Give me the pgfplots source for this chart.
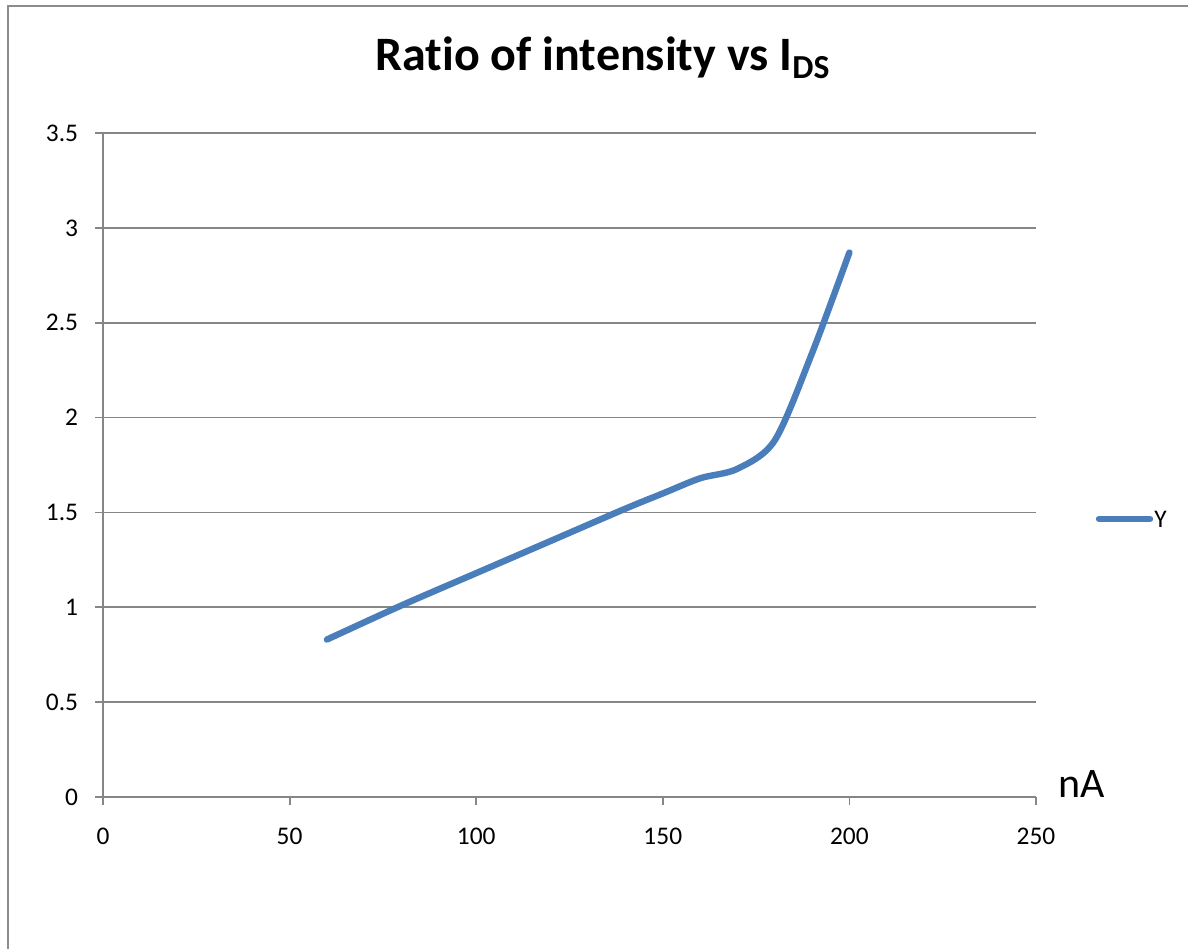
\documentclass[border=0pt]{standalone}
\usepackage{pgfplots}
\pgfplotsset{compat=1.18}
\usepackage{fontspec}
\setmainfont{Carlito}[Ligatures={NoCommon}]
\definecolor{seriesblue}{HTML}{4A7EBB}
\definecolor{axisgray}{HTML}{868686}
\definecolor{framegray}{HTML}{8C8C8C}

\pgfplotstableread{
x y
60 0.83
80 1.01
100 1.18
120 1.35
140 1.52
150 1.60
160 1.68
170 1.73
180 1.88
190 2.34
200 2.87
}\ratiodata

\begin{document}
\begin{tikzpicture}[x=0.5pt,y=0.5pt]
% page area and chart frame
\useasboundingbox (0,0) rectangle (1188,948);
\draw[framegray, line width=1.2pt] (8,-5) -- (8,942) -- (1195,942);
\begin{axis}[
  at={(51.5pt,75.5pt)}, anchor=south west,
  scale only axis,
  width=466.5pt, height=332pt,
  xmin=0, xmax=250, ymin=0, ymax=3.5,
  xtick={0,50,...,250},
  ytick={0,0.5,...,3.5},
  axis x line=bottom, axis y line=left,
  axis line style={-, axisgray, line width=0.9pt},
  tick style={axisgray, line width=0.9pt},
  tick align=outside,
  major tick length=3.75pt,
  ymajorgrids,
  grid style={axisgray, line width=0.9pt},
  /pgf/number format/assume math mode=true,
  /pgf/number format/fixed,
  ticklabel style={font=\fontsize{12.7}{15}\selectfont, text=black},
  yticklabel style={anchor=east, inner sep=0pt, xshift=-8.5pt},
  xticklabel style={anchor=north, inner sep=0pt, yshift=-11.5pt},
  clip=false,
]
\addplot[seriesblue, line width=3.2pt, smooth, line cap=round] table[x=x, y=y] {\ratiodata};
\end{axis}
% title
\node[anchor=base, font=\fontsize{24}{28}\selectfont\bfseries] at (603,877)
  {Ratio of intensity vs I\textsubscript{DS}};
% x-axis unit
\node[anchor=base west, inner sep=0pt, font=\fontsize{21}{25}\selectfont] at (1058,151) {nA};
% legend
\draw[seriesblue, line width=3.2pt, line cap=round] (1099,429) -- (1150,429);
\node[anchor=west, inner sep=0pt, font=\fontsize{12.7}{15}\selectfont] at (1154,429) {Y};
\end{tikzpicture}
\end{document}
